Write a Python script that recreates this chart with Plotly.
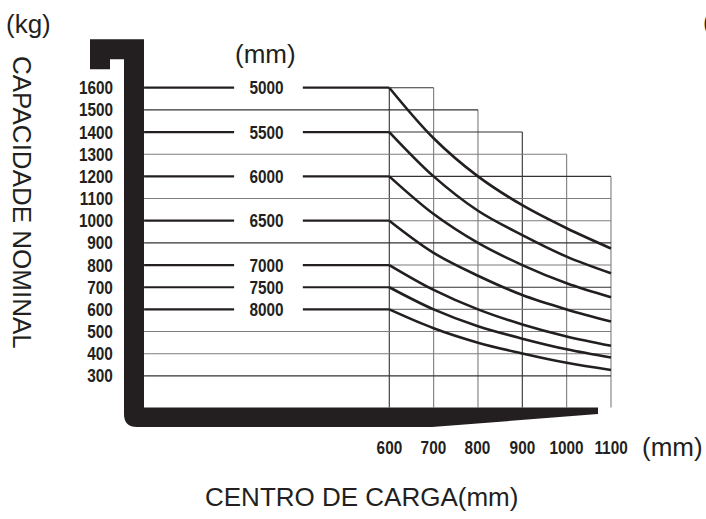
import json
import plotly.graph_objects as go

# ---------------- data ----------------
load_centers = [600, 700, 800, 900, 1000, 1100]          # mm
x_tick_labels = ["600", "700", "800", "900", "1000", "1100"]
y_ticks = [300, 400, 500, 600, 700, 800, 900, 1000, 1100, 1200, 1300, 1400, 1500, 1600]  # kg
col_tops = [1600, 1600, 1500, 1400, 1300, 1200]         # top of each grid column (kg)

lift_heights = ["5000", "5500", "6000", "6500", "7000", "7500", "8000"]  # mm
cap_5000 = [1600, 1372, 1200, 1070, 966, 875]
cap_5500 = [1400, 1200, 1045, 935, 838, 763]
cap_6000 = [1200, 1030, 900, 800, 718, 655]
cap_6500 = [1000, 855, 752, 665, 600, 545]
cap_7000 = [800, 688, 600, 532, 478, 436]
cap_7500 = [700, 600, 524, 468, 420, 383]
cap_8000 = [600, 515, 450, 401, 359, 327]
capacities = [cap_5000, cap_5500, cap_6000, cap_6500, cap_7000, cap_7500, cap_8000]

# ---------------- layout constants ----------------
W, H = 706, 519
X_RANGE = [-278.0, 1314.3]
Y_RANGE = [-345.4, 1995.6]
GRID_LEFT = 47        # mm, inner edge of fork upright
GRID_BOTTOM = 157     # kg, top edge of fork blade
GAP = (250, 405)      # label gap on the rated lines (mm)
LABEL_X = 324
INK = "#231f20"
GRID_DARK = "#333333"
GRID_GRAY = "#7d7d7d"
BOLD_FONT = "Liberation Sans, Arial, Helvetica, sans-serif"
REG_FONT = "Liberation Sans, Arial, Helvetica, sans-serif"
NARROW = 0.83         # horizontal squeeze of the condensed bold digits


def px(x):
    return x / W


def py(y):
    return 1 - y / H


fig = go.Figure()
shapes = []

# grid: vertical lines
dark_cols = {600, 900}
for xc, top in zip(load_centers, col_tops):
    shapes.append(dict(type="line", xref="x", yref="y", x0=xc, x1=xc, y0=GRID_BOTTOM, y1=top,
                       line=dict(color=GRID_DARK if xc in dark_cols else GRID_GRAY, width=1.1),
                       layer="below"))

# grid: horizontal lines
rated = [c[0] for c in capacities]
for kg in y_ticks:
    right = max(xc for xc, top in zip(load_centers, col_tops) if top >= kg)
    left = load_centers[0] if kg in rated else GRID_LEFT
    col = GRID_DARK if kg in (1500, 1400, 1200, 900, 700, 300, 1600) else GRID_GRAY
    shapes.append(dict(type="line", xref="x", yref="y", x0=left, x1=right, y0=kg, y1=kg,
                       line=dict(color=col, width=1.1), layer="below"))

# rated-capacity lines with label gap
for kg in rated:
    for a, b in ((GRID_LEFT, GAP[0]), (GAP[1], load_centers[0])):
        shapes.append(dict(type="line", xref="x", yref="y", x0=a, x1=b, y0=kg, y1=kg,
                           line=dict(color=INK, width=2.2), layer="below"))

# fork silhouette (decoration, pixel geometry)
pts = [("M", 90, 39.3), ("L", 144, 39.3), ("L", 144, 407.5), ("L", 598, 407.5), ("L", 598, 414),
       ("L", 432, 427), ("L", 137, 427)]
path = " ".join(f"{c} {px(x):.5f},{py(y):.5f}" for c, x, y in pts)
path += f" Q {px(124):.5f},{py(427):.5f} {px(124):.5f},{py(414):.5f}"
for c, x, y in [("L", 124, 59.3), ("L", 110, 59.3), ("L", 110, 69.3), ("L", 90, 69.3)]:
    path += f" {c} {px(x):.5f},{py(y):.5f}"
path += " Z"
shapes.append(dict(type="path", xref="paper", yref="paper", path=path,
                   fillcolor=INK, line=dict(width=0), layer="above"))

# capacity curves
for name, caps in zip(lift_heights, capacities):
    fig.add_trace(go.Scatter(x=load_centers, y=caps, mode="lines", name=name,
                             line=dict(color=INK, width=2.6, shape="spline", smoothing=1.0),
                             hoverinfo="skip", showlegend=False))

annotations = []
origins = []   # transform origin for squeezed labels (None = not squeezed)
bold = dict(family=BOLD_FONT, size=18.5, color=INK)
# curve labels
for name, caps in zip(lift_heights, capacities):
    annotations.append(dict(x=LABEL_X, y=caps[0], xref="x", yref="y", text=f"<b>{name}</b>",
                            showarrow=False, xanchor="center", yanchor="middle", font=bold))
    origins.append("center")
# y tick labels
for kg in y_ticks:
    annotations.append(dict(x=px(115), y=kg, xref="paper", yref="y", text=f"<b>{kg}</b>",
                            showarrow=False, xanchor="right", yanchor="middle", font=bold))
    origins.append("right center")
# x tick labels
for xc, lab in zip(load_centers, x_tick_labels):
    annotations.append(dict(x=xc, y=py(447.5), xref="x", yref="paper", text=f"<b>{lab}</b>",
                            showarrow=False, xanchor="center", yanchor="middle", font=bold))
    origins.append("center")

reg = dict(family=REG_FONT, size=26, color=INK)
for a in [
    dict(x=px(4), y=py(24), text="(kg)", xanchor="left"),
    dict(x=px(22), y=py(202), text="CAPACIDADE NOMINAL", xanchor="center", textangle=90),
    dict(x=px(265), y=py(54), text="(mm)", xanchor="center"),
    dict(x=px(672), y=py(447), text="(mm)", xanchor="center"),
    dict(x=px(362), y=py(497), text="CENTRO DE CARGA(mm)", xanchor="center"),
    dict(x=px(701), y=py(22), text="(", xanchor="left"),
]:
    annotations.append(dict(xref="paper", yref="paper", showarrow=False, yanchor="middle",
                            font=reg, **a))
    origins.append(None)

fig.update_layout(
    width=W, height=H, autosize=False,
    margin=dict(l=0, r=0, t=0, b=0, pad=0),
    paper_bgcolor="white", plot_bgcolor="white",
    xaxis=dict(range=X_RANGE, visible=False, fixedrange=True),
    yaxis=dict(range=Y_RANGE, visible=False, fixedrange=True),
    shapes=shapes, annotations=annotations,
    showlegend=False,
)

post = """
document.documentElement.style.margin = '0';
document.body.style.margin = '0';
document.body.style.overflow = 'hidden';
var origins = %s;
var gd = document.querySelector('.plotly-graph-div');
gd.querySelectorAll('g.annotation').forEach(function (g) {
  var o = origins[+g.getAttribute('data-index')];
  if (!o) return;
  var t = g.querySelector('text.annotation-text');
  if (!t) return;
  t.style.transformBox = 'fill-box';
  t.style.transformOrigin = o;
  t.style.transform = 'scaleX(%s)';
});
""" % (json.dumps(origins), NARROW)

fig.write_html("out.html", config={"displayModeBar": False}, post_script=post)
